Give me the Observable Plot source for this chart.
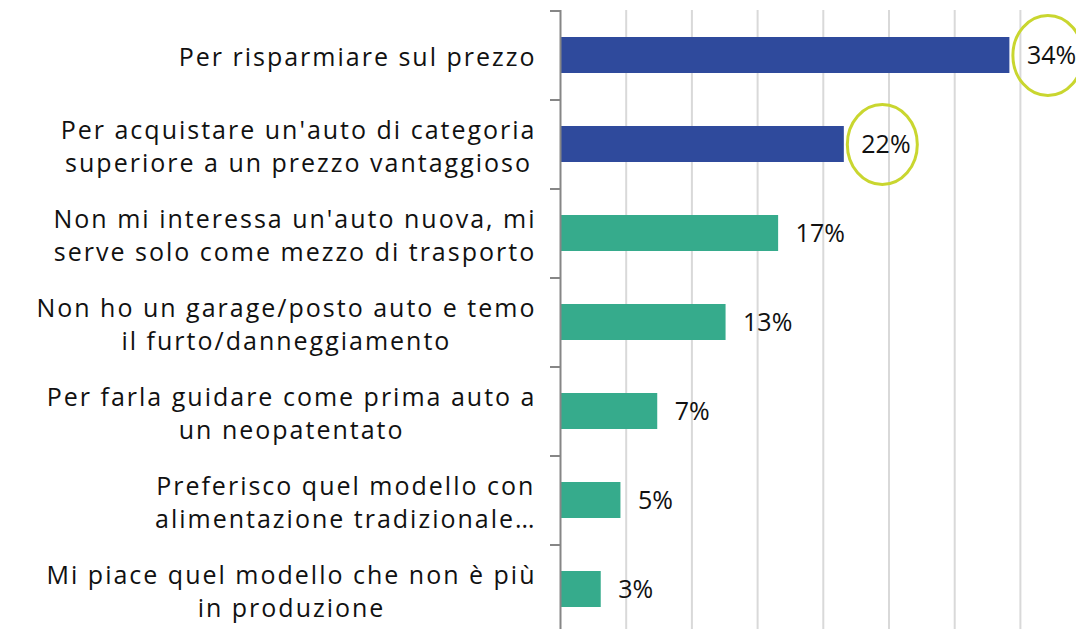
<!DOCTYPE html>
<html>
<head>
<meta charset="utf-8">
<script src="https://cdn.jsdelivr.net/npm/d3@7"></script>
<script src="https://cdn.jsdelivr.net/npm/@observablehq/plot@0.6"></script>
<style>
  html, body { margin: 0; padding: 0; background: #fff; overflow: hidden; }
  text[aria-label="category label"] { letter-spacing: 2px; }
</style>
</head>
<body>
<script>
// ---- data ----
const categories = [
  "Per risparmiare sul prezzo",
  "Per acquistare un'auto di categoria\nsuperiore a un prezzo vantaggioso",
  "Non mi interessa un'auto nuova, mi\nserve solo come mezzo di trasporto",
  "Non ho un garage/posto auto e temo\nil furto/danneggiamento",
  "Per farla guidare come prima auto a\nun neopatentato",
  "Preferisco quel modello con\nalimentazione tradizionale…",
  "Mi piace quel modello che non è più\nin produzione"
];
const values = [34.2, 21.6, 16.6, 12.6, 7.4, 4.6, 3.1];
const valueLabels = ["34%", "22%", "17%", "13%", "7%", "5%", "3%"];
const groups = ["top", "top", "other", "other", "other", "other", "other"];
const circled = [true, true, false, false, false, false, false];
const xTicks = [0, 5, 10, 15, 20, 25, 30, 35];

// ---- styling ----
const FONT = "'Open Sans', 'Noto Sans', sans-serif";
const FS = 25;
const LS = 2; // letter spacing of category labels (px)
const colors = {top: "#2f4a9c", other: "#36ab8c"};

const data = categories.map((c, i) => ({
  cat: c, value: values[i], label: valueLabels[i], group: groups[i], circled: circled[i]
}));

// measure label block widths to centre lines within a right-aligned block
const ctx = document.createElement("canvas").getContext("2d");
ctx.font = `${FS}px ${FONT}`;
const blockWidth = c => d3.max(c.split("\n"), l => ctx.measureText(l).width + LS * (l.length - 1));

// ellipse symbol for the highlight rings
const ellipse = {
  draw(context) {
    const rx = 35, ry = 40, k = 0.5522847498;
    context.moveTo(rx, 0);
    context.bezierCurveTo(rx, k * ry, k * rx, ry, 0, ry);
    context.bezierCurveTo(-k * rx, ry, -rx, k * ry, -rx, 0);
    context.bezierCurveTo(-rx, -k * ry, -k * rx, -ry, 0, -ry);
    context.bezierCurveTo(k * rx, -ry, rx, -k * ry, rx, 0);
    context.closePath();
  }
};

const step = (633 - 10) / categories.length;

const chart = Plot.plot({
  width: 1076,
  height: 629,
  marginLeft: 560,
  marginRight: 0,
  marginTop: 10,
  marginBottom: 0,
  style: {fontFamily: FONT, fontSize: FS + "px", color: "#111", background: "#fff"},
  x: {domain: [0, 40], range: [560, 1085.6], axis: null},
  y: {domain: categories, range: [10, 633], paddingInner: 0.6, paddingOuter: 0.3, axis: null},
  color: {domain: ["top", "other"], range: [colors.top, colors.other]},
  marks: [
    Plot.ruleX(xTicks.slice(1), {stroke: "#d9d9d9", strokeWidth: 2}),
    Plot.barX(data, {x: "value", y: "cat", fill: "group"}),
    Plot.ruleX([0], {stroke: "#868686", strokeWidth: 2}),
    Plot.axisY({tickSize: 10, fill: "none", stroke: "#868686", strokeWidth: 2, dy: -step / 2, label: null}),
    ...categories.map(c => Plot.text([c], {
      y: d => d, text: d => d, frameAnchor: "left",
      textAnchor: "middle", lineAnchor: "middle", lineHeight: 33 / FS,
      fontSize: FS, fill: "#111", ariaLabel: () => "category label",
      dx: -25 - blockWidth(c) / 2
    })),
    Plot.text(data, {x: "value", y: "cat", text: "label", dx: 17, textAnchor: "start", fontSize: FS, fill: "#111"}),
    Plot.dot(data.filter(d => d.circled), {x: "value", y: "cat", dx: 38, symbol: ellipse, stroke: "#c9d62f", strokeWidth: 3, fill: "none"})
  ]
});
document.body.appendChild(chart);
</script>
</body>
</html>
